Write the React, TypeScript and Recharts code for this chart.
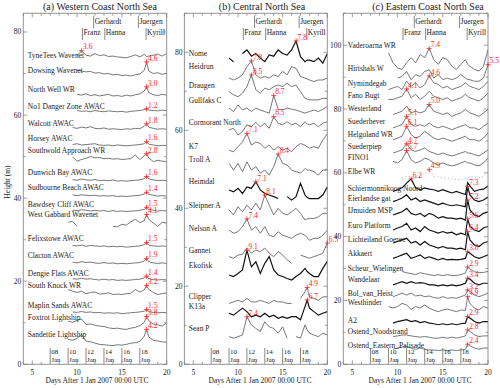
import React from "react";
import { LineChart, Line, XAxis, YAxis, ReferenceDot, ReferenceLine } from "recharts";

// sample times (days after 1 Jan 2007)
const TIMES = [9, 9.5, 10, 10.5, 11, 11.5, 12, 12.5, 13, 13.5, 14, 14.5, 15, 15.5, 16, 16.5, 17, 17.5, 17.75, 18, 18.5, 19, 19.5, 20];
const DAY_TICKS = [4, 5, 6, 7, 8, 9, 10, 11, 12, 13, 14, 15, 16, 17, 18, 19, 20];

const STORM_NAMES = ["Franz", "Gerhardt", "Hanna", "Juergen", "Kyrill"];
const STORM_DAYS = [10.6, 11.85, 13.1, 16.85, 17.7];
const DATE_LABELS = ["08", "10", "12", "14", "16", "18"];
const DATE_DAYS = [7, 9, 11, 13, 15, 17];

// ---- (a) Western Coast North Sea ----
const STATIONS_A = [
  "TyneTees Wavenet", "Dowsing Wavenet", "North Well WR", "No1 Danger Zone AWAC", "Walcott AWAC",
  "Horsey AWAC", "Southwold Approach WR", "Dunwich Bay AWAC", "Sudbourne Beach AWAC", "Bawdsey Cliff AWAC",
  "West Gabbard Wavenet", "Felixstowe AWAC", "Clacton AWAC", "Dengie Flats AWAC", "South Knock WR",
  "Maplin Sands AWAC", "Foxtrot Lightship", "Sandettie Lightship",
];
const OFFSET_A = [71.9, 68.2, 63.8, 60.3, 56.1, 52.0, 47.9, 43.6, 40.0, 36.3, 32.0, 27.8, 23.6, 19.8, 15.8, 11.7, 7.7, 4.2];
const LABEL_Y_A = [74.5, 70.7, 66.1, 62.2, 58.1, 54.3, 51.4, 46.3, 42.5, 38.6, 36.0, 30.4, 26.3, 22.0, 19.1, 14.3, 11.2, 7.3];
const PEAK_A = ["3.6", "4.6", "3.0", "1.2", "1.8", "1.6", "2.8", "1.6", "1.4", "1.5", "4.1", "1.5", "1.9", "1.4", "3.2", "1.5", "3.8", "4.2"];
const HS_A = [
  [null, null, 2.4, 3.6, 2.5, 2.3, 2.9, 2.4, 2.6, 2.2, 2.3, 2.1, 2.0, 1.9, 2.2, 2.6, 2.1, 2.7, 2.2, 2.3, 2.5, 2.8, 2.3, 2.9],
  [null, null, 2.6, 2.4, 2.2, 2.3, 1.9, 2.0, 1.7, 1.8, 1.5, 1.6, 1.3, 1.4, 1.2, 1.5, 1.7, 2.6, 4.6, 2.4, 1.8, 2.0, 1.6, 1.9],
  [null, null, 1.2, 1.0, 1.3, 0.9, 1.1, 0.8, 1.0, 1.2, 0.8, 0.9, 0.7, 1.0, 0.8, 1.1, 1.3, 2.0, 3.0, 1.6, 1.1, 0.9, 1.2, 1.0],
  [null, null, 0.8, 0.6, 0.7, 0.5, 0.8, 0.6, 0.5, 0.7, 0.6, 0.5, 0.6, 0.4, 0.6, 0.7, 0.8, 1.0, 1.2, 0.9, 0.8, 0.7, 0.9, 0.7],
  [null, 0.9, 0.7, 1.0, 0.8, 1.1, 0.7, 0.6, 0.8, 0.5, 0.6, 0.5, 0.4, 0.6, 0.5, 0.7, 0.6, 1.2, 1.8, 1.0, 0.7, 0.5, 0.6, 0.5],
  [null, 0.9, 1.1, 0.8, 0.9, 1.0, 1.1, 0.8, 0.7, 0.8, 0.6, 0.8, 0.7, 0.6, 0.7, 0.8, 0.9, 1.1, 1.6, 1.0, 0.8, 0.6, 0.7, 0.7],
  [null, 2.0, 1.0, 1.4, 1.7, 2.1, 1.8, 1.9, 1.6, 1.7, 1.5, 1.6, 1.4, 1.5, 1.6, 2.5, 1.4, 2.3, 2.8, 1.8, 0.9, 1.2, 1.0, 0.9],
  [null, 0.9, 0.7, 1.0, 0.8, 0.7, 0.9, 0.6, 0.7, 0.6, 0.8, 0.5, 0.6, 0.5, 0.6, 0.7, 0.8, 1.1, 1.6, 1.0, 0.8, 0.6, 0.7, 0.6],
  [null, 0.8, 0.6, 0.8, 0.7, 0.6, 0.7, 0.5, 0.6, 0.5, 0.6, 0.4, 0.5, 0.4, 0.5, 0.6, 0.7, 1.0, 1.4, 0.9, 0.7, 0.5, 0.6, 0.5],
  [null, 0.8, 0.7, 0.9, 0.8, 0.6, 0.8, 0.6, 0.7, 0.5, 0.7, 0.5, 0.6, 0.5, 0.6, 0.6, 0.8, 1.0, 1.5, 1.0, 0.8, 0.6, 0.7, 0.6],
  [2.2, 2.4, 1.2, null, null, null, null, null, null, null, 1.2, 1.1, 1.7, 1.5, 2.3, 2.9, 2.1, 2.6, 4.1, 2.9, 2.0, 1.2, 2.2, 2.0],
  [null, 0.8, 0.7, 0.9, 0.6, 0.8, 0.7, 0.6, 0.7, 0.5, 0.6, 0.5, 0.6, 0.4, 0.5, 0.6, 0.7, 1.0, 1.5, 0.9, 0.7, 0.6, 0.7, 0.6],
  [null, 1.0, 0.8, 1.1, 0.9, 1.0, 0.8, 0.7, 0.9, 0.7, 0.8, 0.6, 0.7, 0.6, 0.7, 0.8, 0.9, 1.3, 1.9, 1.1, 0.8, 0.7, 0.8, 0.7],
  [null, 0.8, 0.7, 0.9, 0.7, 0.8, 0.6, 0.5, 0.7, 0.5, 0.6, 0.4, 0.5, 0.4, 0.5, 0.6, 0.7, 1.0, 1.4, 0.8, 0.6, 0.5, 0.6, 0.5],
  [2.2, 1.8, 1.5, 1.8, 1.2, 1.5, 1.6, 1.1, 1.2, 1.4, 1.0, 1.1, 1.0, 1.2, 1.3, 2.2, 1.6, 2.1, 3.2, 2.2, 1.5, 1.0, 1.2, 1.4],
  [null, 0.9, 0.8, 1.0, 0.8, 0.9, 0.7, 0.8, 0.6, 0.7, 0.6, 0.7, 0.5, 0.6, 0.7, 0.8, 0.9, 1.1, 1.5, 1.0, 0.8, 0.7, 0.8, 0.7],
  [2.7, 2.4, 2.9, 3.2, 1.9, 2.0, 1.7, 1.5, 1.4, 1.1, 0.9, 1.0, 0.8, 0.7, 1.0, 1.2, 1.6, 2.4, 3.8, 2.8, 2.0, 1.8, 1.5, 2.3],
  [1.8, 1.6, 2.0, 3.0, 1.4, 1.2, 0.9, 0.6, 0.5, 0.4, 0.3, 0.5, 0.4, 0.6, 0.9, 1.0, 1.3, 2.6, 4.2, 2.4, 1.6, 1.4, 1.2, 1.1],
];

// ---- (b) Central North Sea ----
const STATIONS_B = [
  "Nome", "Heidrun", "Draugen", "Gullfaks C", "Cormorant North", "K7", "Troll A", "Heimdal",
  "Sleipner A", "Nelson A", "Gannet", "Ekofisk", "Clipper", "K13a", "Sean P",
];
const OFFSET_B = [75.1, 70.0, 65.7, 60.2, 55.0, 52.1, 45.5, 39.7, 35.3, 29.9, 24.6, 20.2, 14.8, 9.8, 4.8];
const LABEL_Y_B = [79.8, 76.5, 71.6, 67.8, 62.1, 56.0, 52.6, 47.0, 40.8, 34.9, 29.3, 25.5, 17.3, 14.9, 9.1];
const PEAK_B = ["7.8", "7.8", "8.5", "8.7", "8.5", "7.1", "8.4", "7.1", "8.1", "7.4", "6.5", "9.1", "4.9", "6.7", "7.4"];
const HS_B = [
  [3.4, 2.5, null, 4.6, 5.5, 3.9, 4.6, 3.4, 2.5, 4.2, 3.9, 5.5, 4.6, 4.2, 5.5, 7.8, 3.8, 2.5, 2.9, 2.9, 2.5, 3.4, 2.1, 4.6],
  [3.4, 2.9, 3.4, 4.2, 6.3, 7.8, 4.2, 3.4, 3.8, 3.4, 4.2, 3.8, 5.1, 4.2, 6.3, 5.9, 3.8, 3.4, 3.2, 2.9, 2.5, 2.9, 2.9, 3.4],
  [4.2, 3.4, 2.9, 3.8, 5.5, 8.5, 4.7, 3.8, 5.1, 4.7, 5.5, 5.9, 5.5, 6.4, 5.5, 5.9, 4.2, 2.5, 2.3, 2.1, 2.1, 2.1, 2.5, 2.5],
  [5.5, 4.6, 6.3, 5.0, 5.5, 4.6, 5.5, 5.0, 4.6, 4.2, 8.7, 5.2, 5.0, 5.5, 5.2, 5.0, 4.6, 4.2, 4.4, 4.6, 5.0, 4.6, 5.2, 5.9],
  [5.1, 5.5, 3.8, 4.7, 6.4, 6.0, 7.0, 5.9, 6.8, 5.5, 8.5, 6.8, 6.4, 7.2, 6.4, 6.8, 5.9, 7.2, 6.6, 6.4, 6.8, 5.9, 6.8, 7.2],
  [2.8, 2.4, 3.7, 4.9, 7.1, 4.1, 4.9, 4.5, 3.3, 4.1, 2.8, 3.7, 2.8, 3.3, 2.4, 3.7, 4.5, 4.1, 3.7, 3.3, 3.7, 3.3, 5.4, 7.0],
  [6.0, 4.3, 6.0, 3.9, 6.4, 4.3, 5.2, 3.5, 4.3, 3.0, 5.2, 8.4, 6.0, 5.6, 4.3, 3.9, 3.5, 4.7, 4.3, 4.3, 3.9, 3.0, 4.3, 4.3],
  [5.0, 4.5, 5.4, 4.1, 5.8, 5.4, 7.1, 5.0, 4.1, 3.7, 3.3, 2.8, null, 3.3, 2.4, 3.3, 6.7, 3.7, 3.1, 2.8, 2.8, 2.8, 3.7, 5.8],
  [4.3, 3.0, 5.1, 3.8, 5.5, 4.3, 6.0, 4.3, 8.1, 5.5, 3.0, 4.7, 3.4, 3.0, 3.8, 4.7, 3.4, 1.7, 2.0, 2.1, 2.1, 2.5, 3.4, 3.4],
  [4.5, 3.7, 4.1, 5.4, 7.4, 4.5, 5.4, 3.7, 5.4, 3.2, 2.8, 4.1, 3.2, 2.8, 2.4, 3.2, 3.7, 3.2, 2.6, 1.9, 2.4, 2.4, 3.2, 4.5],
  [3.0, 2.6, 3.4, 3.6, 5.2, 3.9, 4.7, 4.3, 5.2, 3.9, 3.0, 4.3, 3.4, 2.2, 1.3, null, 3.4, 3.0, 2.8, 2.6, 3.0, 3.4, 3.9, 6.5],
  [2.7, 2.3, 3.1, 4.0, 9.1, 4.8, 6.1, 3.1, 5.7, 7.4, 4.0, 2.7, 2.3, 1.8, 1.4, 2.3, 3.1, 4.4, 3.6, 3.1, 2.3, 2.3, 4.4, 6.2],
  [0.8, 1.2, 1.6, 1.2, 2.1, 1.2, 1.2, 1.6, 1.2, 0.8, 1.6, 1.2, 1.2, 0.8, 0.8, null, 2.1, 3.8, 4.9, 2.5, 2.1, 1.6, 2.5, 2.5],
  [3.3, 2.8, 3.7, 4.6, 3.7, 2.4, 2.8, 2.4, 3.3, 2.4, 2.8, 2.0, 2.4, 2.0, 2.4, 2.4, 1.6, 5.0, 6.7, 4.6, 3.7, 2.8, 3.3, 3.7],
  [2.3, 1.9, 2.3, 2.7, 7.4, 5.3, 4.4, 3.6, 6.1, 4.8, 4.4, 3.2, 4.8, 1.9, null, 2.3, 1.9, 5.3, 4.0, 3.2, 2.7, 2.3, 3.2, 2.7],
];

// ---- (c) Eastern Coast North Sea ----
const STATIONS_C = [
  "Vaderoarna WR", "Hirtshals W", "Nymindegab", "Fano Bugt", "Westerland", "Suederhever", "Helgoland WR",
  "Suederpiep", "FINO1", "Elbe WR", "Schiermonnikoog Noord", "Eierlandse gat", "IJmuiden MSP", "Euro Platform",
  "Lichteiland Goeree", "Akkaert", "Scheur_Wielingen", "Wandelaar", "Bol_van_Heist", "Westhinder", "A2",
  "Ostend_Noodstrand", "Ostend_Eastern_Palisade",
];
const OFFSET_C = [91.6, 88.4, 85.8, 82.2, 76.4, 72.6, 68.5, 64.4, 61.3, 56.1, 51.9, 48.4, 44.3, 40.0, 35.2, 31.5, 27.6, 23.6, 20.1, 16.3, 12.1, 8.0, 3.9];
const LABEL_Y_C = [99.9, 92.8, 88.0, 84.2, 80.1, 76.1, 72.0, 68.3, 64.8, 60.5, 55.0, 52.1, 48.4, 43.7, 39.3, 34.8, 30.1, 26.5, 22.3, 19.5, 13.9, 10.2, 6.0];
const PEAK_C = ["7.4", "5.5", "4.6", "4.1", "5.0", "5.1", "6.1", "4.7", "5.7", "4.9", "6.2", "7.3", "7.2", "5.6", "6.4", "3.8", "2.9", "3.4", "3.2", "4.9", "2.9", "2.8", "2.4"];
const HS_C = [
  [6.0, 2.9, 1.3, 0.8, 2.9, 4.5, 2.9, 5.5, 4.5, 7.4, 3.9, 2.4, 4.5, 3.9, 1.8, 0.8, 2.4, 3.9, 2.4, 1.8, 0.8, 0.3, 1.8, 7.0],
  [null, null, 1.3, 1.8, 3.4, 0.8, 2.4, 1.8, 3.4, 3.9, 1.3, 2.4, 0.8, 1.3, 0.8, 1.3, 2.4, 1.3, 0.8, 0.8, 0.3, 0.3, 1.3, 5.5],
  [0.3, 0.8, 1.3, 0.3, 2.9, 1.3, 2.4, 0.8, 1.9, 4.6, 2.4, 1.9, 0.8, 1.3, 0.3, 0.8, 1.3, 2.4, 1.9, 1.3, 0.8, 0.3, 1.3, 2.9],
  [0.8, 0.8, 1.3, 1.8, 4.1, 1.3, 2.4, 0.8, 1.8, 3.4, 1.8, 1.3, 0.8, 1.3, 0.3, 0.8, 1.3, 2.4, 1.8, 1.3, 0.8, 0.3, 1.3, 2.9],
  [null, 1.9, 2.4, 2.9, 4.5, 2.4, 2.9, 2.4, 2.9, 5.0, 2.9, 2.4, 1.9, 2.4, 1.3, 1.9, 2.4, 3.5, 2.9, 2.4, 1.9, 1.3, 2.4, 3.5],
  [null, 1.5, 2.0, 2.5, 5.1, 2.5, 2.0, 2.5, 2.0, 3.0, 2.0, 1.5, 2.0, 1.5, 0.9, 1.5, 2.0, 2.5, 2.0, 1.5, 1.5, 0.9, 2.0, 3.0],
  [null, 1.9, 2.4, 3.0, 6.1, 3.5, 2.4, 3.0, 4.5, 3.5, 2.4, 1.9, 2.4, 1.9, 1.4, 1.9, 2.4, 3.0, 2.4, 1.9, 1.9, 1.4, 2.4, 4.0],
  [null, 1.8, 2.3, 2.8, 4.7, 2.8, 2.3, 2.8, 3.4, 2.3, 1.8, 1.3, 1.8, 1.3, 0.9, 1.3, 1.8, 2.3, 1.8, 1.8, 1.3, 0.9, 1.8, 2.8],
  [null, 2.3, 1.8, 2.8, 5.7, 2.8, 1.8, 2.3, 3.3, 2.8, 1.8, 1.2, 1.8, 1.2, 0.9, 1.2, 1.8, 2.3, 1.8, 1.8, 1.2, 0.9, 1.8, 3.3],
  [null, null, null, 2.3, 2.8, 2.6, 2.3, 2.8, 3.9, 4.9, 2.8, 2.6, 2.3, 2.3, 2.0, 1.8, 1.8, 2.3, 2.3, 2.8, 2.6, 2.3, 2.8, 3.9],
  [null, 2.3, 2.8, 3.4, 4.9, 6.2, 3.4, 2.8, 3.4, 3.0, 2.8, 2.3, 2.8, 2.3, 1.8, 2.3, 1.8, 1.3, 5.0, 4.0, 2.3, 2.8, 3.0, 4.0],
  [null, 2.6, 3.1, 3.7, 4.7, 3.1, 3.7, 2.6, 3.1, 2.6, 2.1, 1.6, 2.1, 1.6, 1.3, 1.6, 1.3, 1.0, 7.3, 4.7, 3.1, 2.6, 3.1, 4.0],
  [null, 2.5, 3.0, 3.5, 4.6, 3.0, 2.5, 3.0, 2.0, 3.0, 2.5, 1.5, 2.0, 1.5, 1.5, 1.2, 1.5, 0.9, 7.2, 4.1, 2.5, 2.0, 3.0, 3.5],
  [null, 2.1, 2.7, 3.2, 4.2, 2.1, 2.7, 1.6, 3.2, 2.1, 1.6, 1.1, 1.6, 1.1, 1.4, 0.6, 1.1, 0.6, 5.6, 3.2, 2.1, 1.6, 2.7, 3.2],
  [null, 2.8, 3.3, 3.8, 4.3, 2.8, 3.3, 2.2, 3.3, 2.2, 1.7, 1.2, 1.7, 1.2, 1.2, 0.9, 1.2, 0.7, 6.4, 3.8, 2.2, 1.7, 2.8, 3.3],
  [null, 1.7, 2.2, 2.8, 3.3, 1.7, 2.2, 2.8, 1.7, 2.2, 1.7, 1.2, 1.7, 1.2, 1.4, 1.2, 1.4, 1.7, 3.8, 3.3, 2.2, 1.7, 2.2, 2.8],
  [null, null, null, 1.5, 1.1, 0.8, 0.5, 1.1, 0.8, 0.5, 0.2, 0.5, 0.2, 0.5, 0.2, 0.2, 0.5, 1.0, 2.9, 2.2, 1.4, 1.1, 1.2, 1.5],
  [null, 1.3, 1.8, 2.3, 1.8, 2.3, 1.8, 2.0, 1.8, 1.3, 1.3, 1.0, 1.3, 1.0, 1.3, 1.0, 1.3, 1.8, 3.4, 3.1, 1.8, 1.3, 1.8, 1.8],
  [null, 1.1, 1.6, 2.2, 1.6, 2.2, 1.3, 1.6, 1.1, 1.3, 0.8, 0.6, 1.1, 0.6, 0.8, 0.6, 1.1, 1.6, 3.2, 2.7, 1.6, 1.1, 1.6, 2.2],
  [1.8, 1.3, 1.8, 2.8, 2.3, 0.9, 1.8, 1.3, 2.3, 1.3, 0.7, 0.2, 0.7, 1.0, 0.6, 0.2, 0.7, 0.6, 4.9, 2.8, 1.3, 0.7, 1.8, 1.3],
  [null, 0.8, 1.3, 1.6, 1.9, 1.3, 1.6, 1.0, 1.3, 0.8, 0.6, 0.3, 0.6, 0.3, 0.6, 0.3, 0.6, 0.8, 2.9, 2.4, 1.3, 0.8, 1.3, 1.3],
  [null, 0.7, 0.9, 1.2, 1.2, 0.9, 0.7, 0.5, 0.7, 0.5, 0.2, 0.2, 0.5, 0.2, 0.5, 0.2, 0.5, 0.9, 2.8, 2.3, 1.2, 0.7, 0.9, 0.9],
  [null, 0.8, 1.2, 1.5, 1.7, 1.2, 0.8, 1.2, 0.8, 0.6, 0.6, 0.4, 0.6, 0.4, 0.6, 0.4, 0.6, 0.8, 2.4, 1.9, 1.2, 0.8, 1.2, 1.2],
];

// layout
const W = 500;
const H = 388;
const PLOT_TOP = 13.3;
const PLOT_BOTTOM = 364.3;
const FONT = '"Liberation Serif", "Times New Roman", serif';
const FRAME = "#777";
const TXT = "#222";
const RED = "#f22";
const FS = 7.5;
const AX = 1; // axis band size (must be > 0 or recharts skips the axis)

const DENSE = ["Nome", "Heimdal", "Ekofisk", "K13a", "Schiermonnikoog Noord", "Eierlandse gat", "IJmuiden MSP", "Euro Platform", "Lichteiland Goeree", "Akkaert", "Wandelaar", "A2"];
const DOTTED = ["Elbe WR"];

const PANELS = [
  { title: "(a) Western Coast North Sea", left: 23.3, right: 166.7, yMax: 84.5, titleX: 100, xLabelX: 97,
    stations: STATIONS_A, offsets: OFFSET_A, labelY: LABEL_Y_A, peaks: PEAK_A, hs: HS_A },
  { title: "(b) Central North Sea", left: 184.4, right: 327.3, yMax: 90, titleX: 262, xLabelX: 260,
    stations: STATIONS_B, offsets: OFFSET_B, labelY: LABEL_Y_B, peaks: PEAK_B, hs: HS_B },
  { title: "(c) Eastern Coast North Sea", left: 343.3, right: 488, yMax: 110, titleX: 428, xLabelX: 420,
    stations: STATIONS_C, offsets: OFFSET_C, labelY: LABEL_Y_C, peaks: PEAK_C, hs: HS_C },
];

const XTick = (props: any) => {
  const { x, y, payload, top } = props;
  const v = payload.value;
  const major = v % 5 === 0;
  const len = major ? 4 : 2.5;
  const dir = top ? 1 : -1;
  return (
    <g>
      <line x1={x} x2={x} y1={y} y2={y + dir * len} stroke={FRAME} strokeWidth={0.7} />
      {!top && major && (
        <text x={x} y={y + 8} textAnchor="middle" dominantBaseline="central" fontSize={FS} fill={TXT} fontFamily={FONT}>
          {v}
        </text>
      )}
    </g>
  );
};

const YTick = (props: any) => {
  const { x, y, payload, right, maxLabel } = props;
  const v = payload.value;
  const major = v % 20 === 0;
  const len = major ? 4 : 2.5;
  const dir = right ? -1 : 1;
  return (
    <g>
      <line x1={x} x2={x + dir * len} y1={y} y2={y} stroke={FRAME} strokeWidth={0.7} />
      {!right && major && v <= maxLabel && (
        <text x={x - 2} y={y} textAnchor="end" dominantBaseline="central" fontSize={FS} fill={TXT} fontFamily={FONT}>
          {v}
        </text>
      )}
    </g>
  );
};

const PeakMark = ({ cx, cy, text }: any) => (
  <g>
    <line x1={cx - 2.5} x2={cx + 2.5} y1={cy} y2={cy} stroke={RED} strokeWidth={0.8} />
    <line x1={cx} x2={cx} y1={cy - 2.5} y2={cy + 2.5} stroke={RED} strokeWidth={0.8} />
    <text x={cx + 1.5} y={cy - 1.2} fontSize={FS} fill={RED} fontFamily={FONT}>
      {text}
    </text>
  </g>
);

const Panel = ({ p }: any) => {
  const ppu = (PLOT_BOTTOM - PLOT_TOP) / p.yMax;
  const below = (px: number) => p.yMax - px / ppu; // px below the top edge
  const above = (px: number) => px / ppu; // px above the bottom edge
  const yTicks: number[] = [];
  for (let v = 0; v <= p.yMax; v += 10) yTicks.push(v);
  const maxLabel = Math.floor(p.yMax / 20) * 20;

  const series = p.hs.map((h: (number | null)[], i: number) =>
    TIMES.map((t, j) => ({ x: t, y: h[j] == null ? null : p.offsets[i] + (h[j] as number) }))
  );
  const peakPts = p.hs.map((h: (number | null)[], i: number) => {
    let k = -1;
    h.forEach((v, j) => {
      if (v != null && (k < 0 || v > (h[k] as number))) k = j;
    });
    return { x: TIMES[k], y: p.offsets[i] + (h[k] as number) };
  });

  const none = () => <g />;
  const axisLine = { stroke: FRAME, strokeWidth: 0.8 };

  return (
    <div style={{ position: "absolute", left: 0, top: 0 }}>
      <LineChart width={W} height={H}
        margin={{ top: PLOT_TOP - AX, bottom: H - PLOT_BOTTOM - AX, left: p.left - AX, right: W - p.right - AX }}>
        <XAxis dataKey="x" type="number" domain={[4, 20]} ticks={DAY_TICKS} interval={0} height={AX}
          tickSize={0} tickMargin={0} tickLine={false} axisLine={axisLine}
          tick={(t: any) => <XTick {...t} />} allowDataOverflow />
        <XAxis xAxisId="top" orientation="top" dataKey="x" type="number" domain={[4, 20]} ticks={DAY_TICKS}
          interval={0} height={AX} tickSize={0} tickMargin={0} tickLine={false}
          axisLine={axisLine} tick={(t: any) => <XTick {...t} top />} allowDataOverflow />
        <YAxis type="number" domain={[0, p.yMax]} ticks={yTicks} interval={0} width={AX} tickSize={0} tickMargin={0}
          tickLine={false} axisLine={axisLine}
          tick={(t: any) => <YTick {...t} maxLabel={maxLabel} />} allowDataOverflow />
        <YAxis yAxisId="r" orientation="right" type="number" domain={[0, p.yMax]} ticks={yTicks} interval={0}
          width={AX} tickSize={0} tickMargin={0} tickLine={false} axisLine={axisLine}
          tick={(t: any) => <YTick {...t} right />} allowDataOverflow />

        {series.map((d: any, i: number) => {
          const name = p.stations[i];
          const dense = DENSE.includes(name);
          const dotted = DOTTED.includes(name);
          return (
            <Line key={name} data={d} dataKey="y" type="linear" dot={false} activeDot={false}
              isAnimationActive={false}
              stroke={dotted ? "#999" : dense ? "#111" : "#555"}
              strokeWidth={dense ? 1.2 : 0.8}
              strokeDasharray={dotted ? "1 2.5" : undefined} />
          );
        })}

        {p.stations.map((name: string, i: number) => (
          <ReferenceDot key={"lbl" + i} x={4.5} y={p.labelY[i]} r={0} shape={none}
            label={{ value: name, position: "right", offset: 0, fontSize: FS, fill: TXT, fontFamily: FONT }} />
        ))}

        {peakPts.map((pt: any, i: number) => (
          <ReferenceDot key={"pk" + i} x={pt.x} y={pt.y} r={0}
            shape={(s: any) => <PeakMark cx={s.cx} cy={s.cy} text={p.peaks[i]} />} />
        ))}

        {STORM_NAMES.map((name, i) => {
          const high = i % 2 === 1;
          const y1 = below(high ? 2.5 : 14.7);
          const y2 = below(high ? 14.7 : 26.7);
          const yl = below(high ? 7.7 : 19);
          return (
            <React.Fragment key={name}>
              <ReferenceLine segment={[{ x: STORM_DAYS[i], y: y1 }, { x: STORM_DAYS[i], y: y2 }]}
                stroke="#555" strokeWidth={0.7} />
              <ReferenceDot x={STORM_DAYS[i]} y={yl} r={0} shape={none}
                label={{ value: name, position: "right", offset: 1, fontSize: FS, fill: TXT, fontFamily: FONT }} />
            </React.Fragment>
          );
        })}

        {DATE_LABELS.map((lab, i) => (
          <React.Fragment key={lab}>
            <ReferenceLine segment={[{ x: DATE_DAYS[i], y: above(2.3) }, { x: DATE_DAYS[i], y: above(16.3) }]}
              stroke="#555" strokeWidth={0.7} />
            <ReferenceDot x={DATE_DAYS[i]} y={above(12.3)} r={0} shape={none}
              label={{ value: lab, position: "right", offset: 1, fontSize: 7, fill: TXT, fontFamily: FONT }} />
            <ReferenceDot x={DATE_DAYS[i]} y={above(4.6)} r={0} shape={none}
              label={{ value: "Jan", position: "right", offset: 1, fontSize: 7, fill: TXT, fontFamily: FONT }} />
          </React.Fragment>
        ))}
      </LineChart>
    </div>
  );
};

const centered = (x: number, y: number, size: number, extra: any = {}) => ({
  position: "absolute" as const,
  left: x,
  top: y,
  transform: "translate(-50%, -50%)",
  whiteSpace: "nowrap" as const,
  fontSize: size,
  lineHeight: 1,
  color: TXT,
  ...extra,
});

export default function App() {
  return (
    <div style={{ position: "absolute", left: 0, top: 0, width: W, height: H, background: "#fff", fontFamily: FONT, overflow: "hidden" }}>
      {PANELS.map((p) => (
        <Panel key={p.title} p={p} />
      ))}
      {PANELS.map((p) => (
        <div key={"t" + p.title} style={centered(p.titleX, 6.5, 10)}>{p.title}</div>
      ))}
      {PANELS.map((p) => (
        <div key={"x" + p.title} style={centered(p.xLabelX, 381, FS)}>Days After 1 Jan 2007 00:00 UTC</div>
      ))}
      <div style={centered(7.5, 182, FS, { transform: "translate(-50%, -50%) rotate(-90deg)" })}>Height (m)</div>
    </div>
  );
}
